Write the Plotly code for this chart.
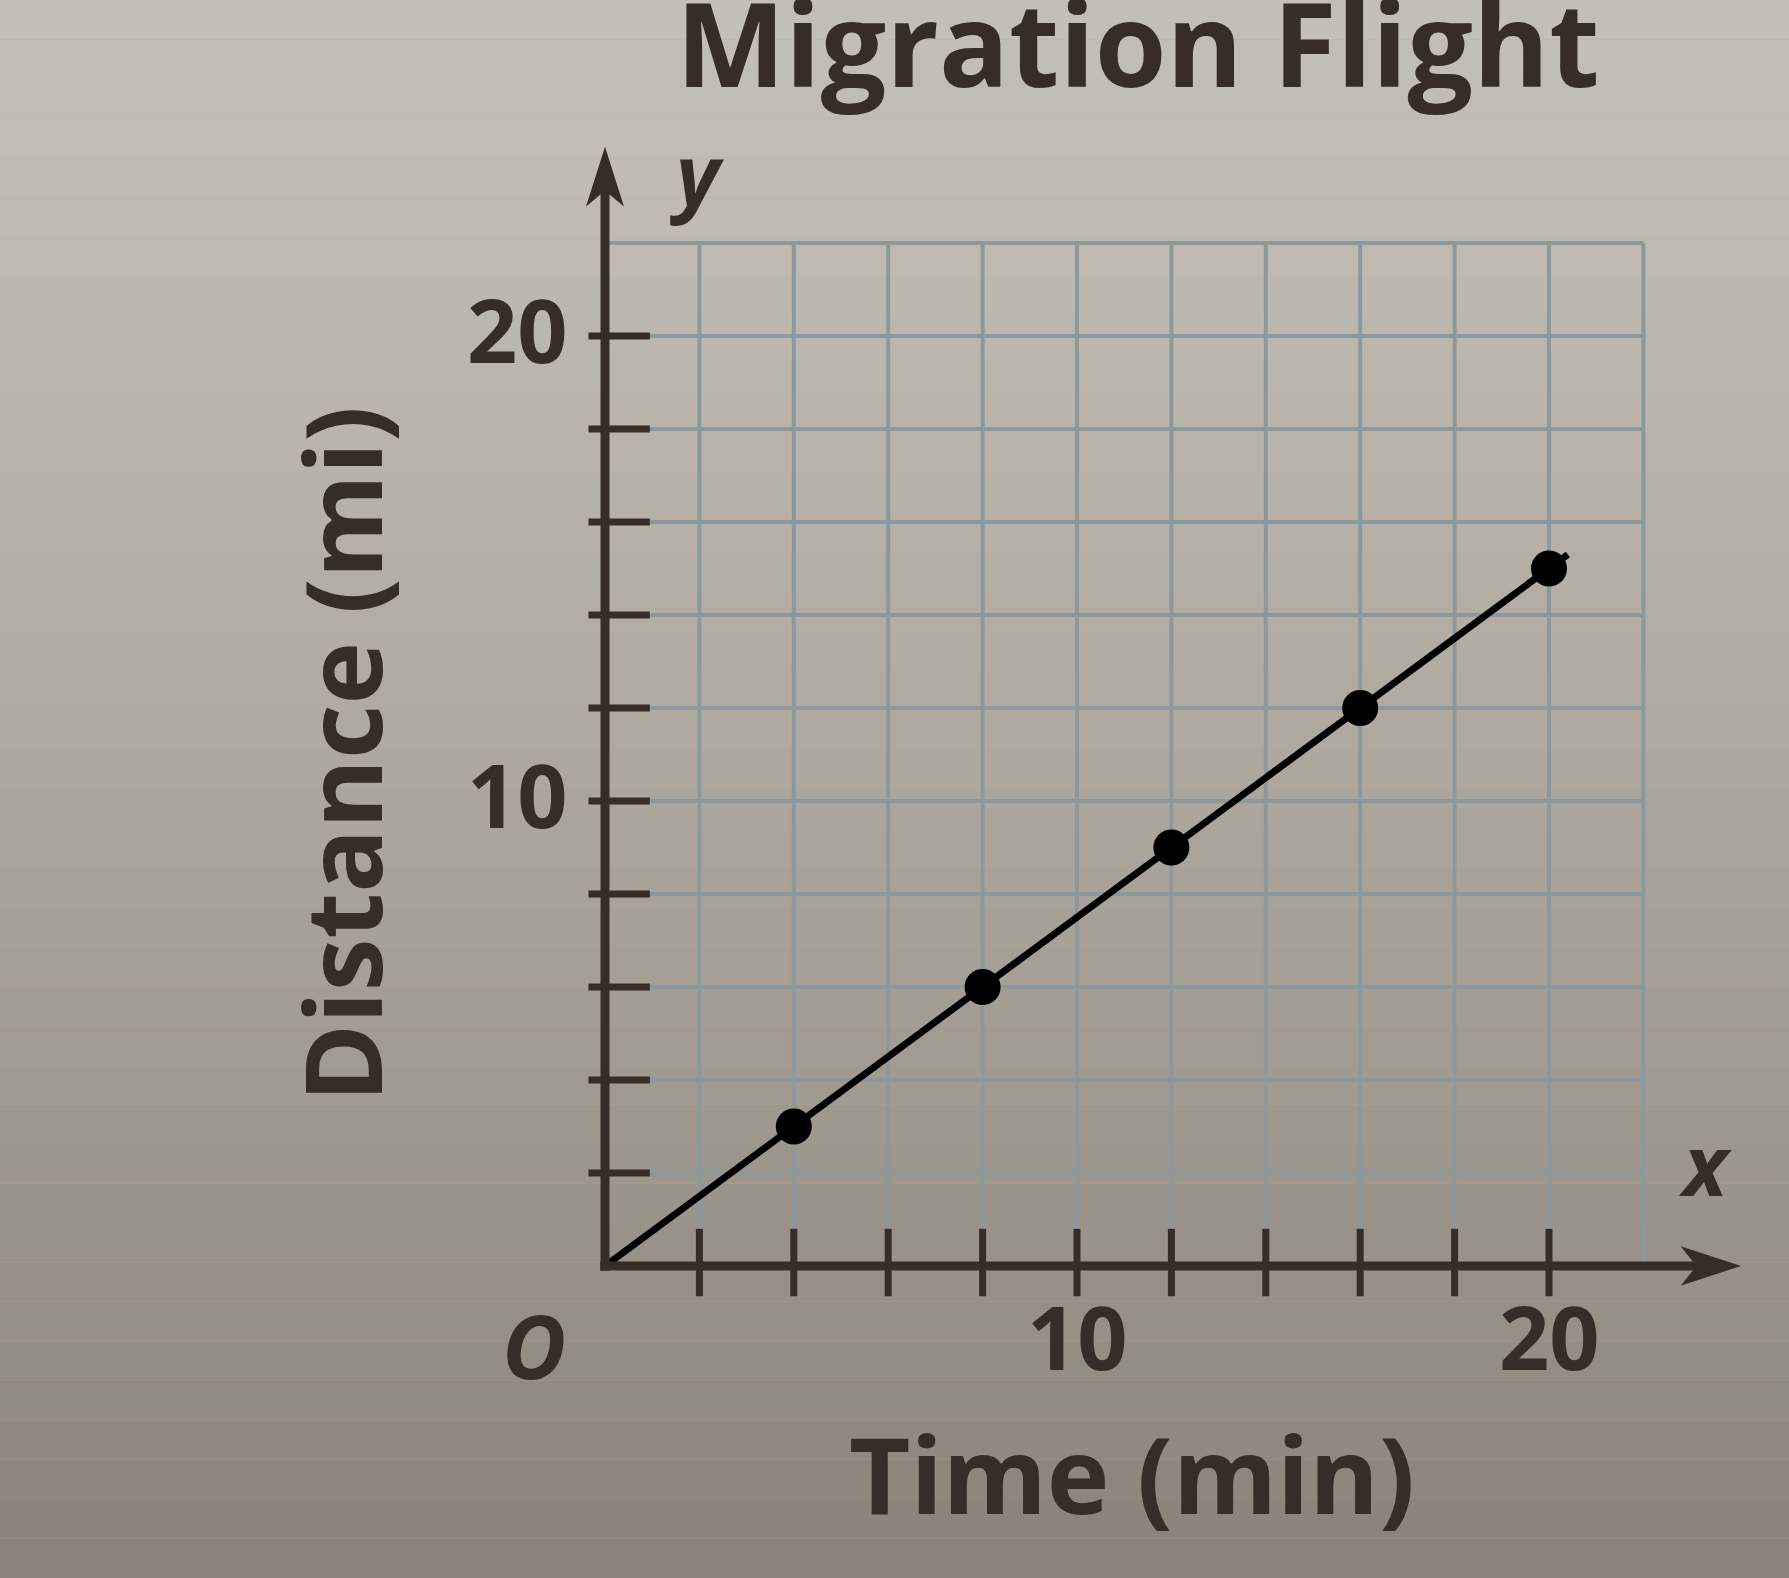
import plotly.graph_objects as go

# ---- data ----
time_min = [4, 8, 12, 16, 20]
distance_mi = [3, 6, 9, 12, 15]
line_time = [0, 4, 8, 12, 16, 20, 20.4]
line_dist = [0, 3, 6, 9, 12, 15, 15.3]
grid_vals = list(range(0, 23, 2))
tick_vals = list(range(2, 21, 2))
x_tick_labels = [10, 20]
y_tick_labels = [10, 20]

W, H = 1789, 1578
X0_PX, Y0_PX = 605, 1266
UX, UY = 47.2, 46.5  # pixels per unit

xr = [-X0_PX / UX, (W - X0_PX) / UX]
yr = [(Y0_PX - H) / UY, Y0_PX / UY]

FONT = "Open Sans"
INK = "#362d26"
GRID = "#8b999f"

fig = go.Figure()
shapes = []
# paper background shading (photo lighting)
top_c = (196, 191, 182)
bot_c = (138, 130, 119)
NB = 40
for i in range(NB):
    t = ((i + 0.5) / NB) ** 1.3
    c = tuple(round(top_c[k] + (bot_c[k] - top_c[k]) * t) for k in range(3))
    shapes.append(dict(type="rect", xref="paper", yref="paper", x0=0, x1=1,
                       y0=1 - (i + 1) / NB, y1=1 - i / NB,
                       fillcolor="rgb(%d,%d,%d)" % c, line=dict(width=0), layer="below"))
# grid
for v in grid_vals:
    shapes.append(dict(type="line", x0=v, x1=v, y0=0, y1=22, line=dict(color=GRID, width=4), layer="below"))
    shapes.append(dict(type="line", x0=0, x1=22, y0=v, y1=v, line=dict(color=GRID, width=4), layer="below"))
# ticks
for v in tick_vals:
    shapes.append(dict(type="line", x0=-0.35, x1=0.95, y0=v, y1=v, line=dict(color=INK, width=7)))
    shapes.append(dict(type="line", x0=v, x1=v, y0=-0.65, y1=0.8, line=dict(color=INK, width=7)))
# axes
shapes.append(dict(type="line", x0=0, x1=0, y0=-0.1, y1=23.2, line=dict(color=INK, width=9)))
shapes.append(dict(type="line", x0=-0.1, x1=23.2, y0=0, y1=0, line=dict(color=INK, width=9)))
shapes.append(dict(type="path", path="M 0 24.0 L -0.36 22.85 L 0 23.15 L 0.36 22.85 Z",
                   fillcolor=INK, line=dict(color=INK, width=2)))
shapes.append(dict(type="path", path="M 24.0 0 L 22.85 0.38 L 23.15 0 L 22.85 -0.38 Z",
                   fillcolor=INK, line=dict(color=INK, width=2)))

fig.add_trace(go.Scatter(x=line_time, y=line_dist, mode="lines",
                         line=dict(color="black", width=7, shape="spline"), hoverinfo="skip"))
fig.add_trace(go.Scatter(x=time_min, y=distance_mi, mode="markers",
                         marker=dict(color="black", size=36)))

ann = []
for v in y_tick_labels:
    ann.append(dict(x=-0.75, y=v + 0.15, text=f"<b>{v}</b>", xanchor="right", yanchor="middle",
                    showarrow=False, font=dict(family=FONT, size=88, color=INK)))
for v in x_tick_labels:
    ann.append(dict(x=v, y=-1.5, text=f"<b>{v}</b>", xanchor="center", yanchor="middle",
                    showarrow=False, font=dict(family=FONT, size=88, color=INK)))
ann.append(dict(x=-1.5, y=-1.7, text="<b><i>O</i></b>", xanchor="center", yanchor="middle",
                showarrow=False, font=dict(family=FONT, size=88, color=INK)))
ann.append(dict(x=1.95, y=23.5, text="<b><i>y</i></b>", xanchor="center", yanchor="middle",
                showarrow=False, font=dict(family=FONT, size=84, color=INK)))
ann.append(dict(x=23.3, y=2.2, text="<b><i>x</i></b>", xanchor="center", yanchor="middle",
                showarrow=False, font=dict(family=FONT, size=84, color=INK)))
ann.append(dict(x=-5.6, y=11.0, text="<b>Distance (mi)</b>", textangle=-90, xanchor="center",
                yanchor="middle", showarrow=False, font=dict(family=FONT, size=106, color=INK)))
ann.append(dict(x=11.16, y=-4.45, text="<b>Time (min)</b>", xanchor="center", yanchor="middle",
                showarrow=False, font=dict(family=FONT, size=106, color=INK)))
ann.append(dict(x=11.3, y=26.33, text="<b>Migration Flight</b>", xanchor="center", yanchor="middle",
                showarrow=False, font=dict(family=FONT, size=116, color=INK)))

fig.update_layout(
    width=W, height=H, margin=dict(l=0, r=0, t=0, b=0),
    paper_bgcolor="#b3ada3", plot_bgcolor="rgba(0,0,0,0)",
    showlegend=False, shapes=shapes, annotations=ann,
    xaxis=dict(range=xr, visible=False, fixedrange=True),
    yaxis=dict(range=yr, visible=False, fixedrange=True),
)
fig.write_html("out.html", config={"displayModeBar": False},
               post_script="document.body.style.margin='0';")
